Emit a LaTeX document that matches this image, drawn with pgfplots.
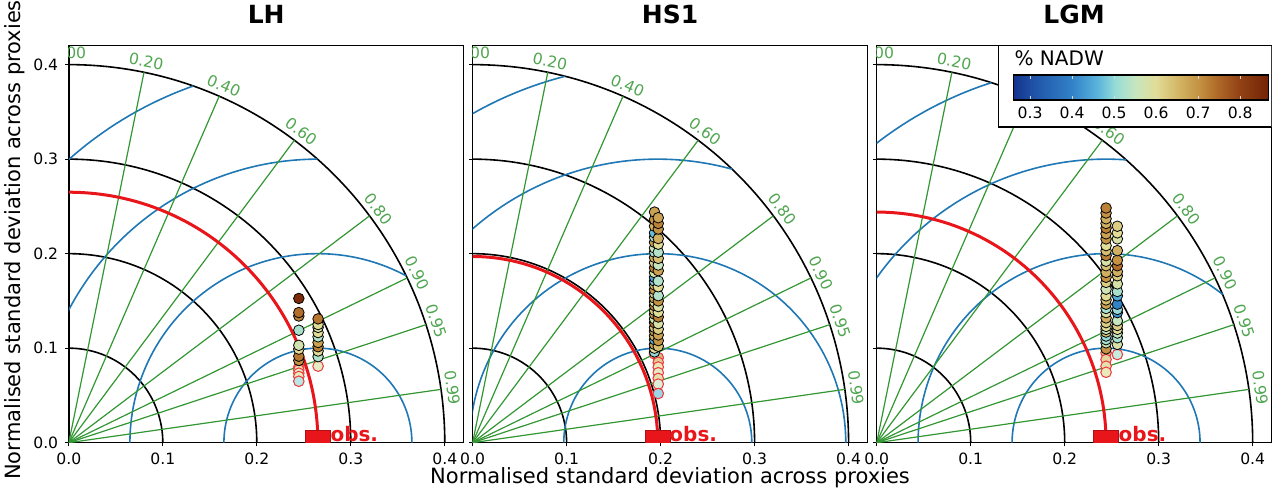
\documentclass[border=0pt]{standalone}
\usepackage{fontspec}
\setmainfont{DejaVu Sans}
\usepackage{pgfplots}
\pgfplotsset{compat=1.18}

\definecolor{grgreen}{RGB}{50,150,50}
\definecolor{grlabel}{RGB}{80,165,80}
\definecolor{rmsblue}{RGB}{31,119,180}
\definecolor{obsred}{RGB}{232,22,26}

\pgfplotsset{
  colormap={nadw}{
    rgb255(0pt)=(20,50,140) rgb255(7pt)=(30,80,165) rgb255(23pt)=(50,130,200)
    rgb255(33pt)=(90,180,220) rgb255(40pt)=(150,220,215) rgb255(48pt)=(200,230,190)
    rgb255(56pt)=(225,220,150) rgb255(65pt)=(210,180,100) rgb255(73pt)=(195,145,65)
    rgb255(80pt)=(175,105,40) rgb255(89pt)=(145,65,20) rgb255(100pt)=(115,35,5)},
}

\tikzset{corrlab/.style={text=grlabel, font=\fontsize{7.8}{9}\selectfont, inner sep=0pt, anchor=center}}

\pgfplotsset{
  taylor/.style={
    scale only axis, width=197.4pt, height=198.5pt,
    xmin=0, xmax=0.42, ymin=0, ymax=0.42,
    axis line style={line width=0.75pt},
    xtick={0,0.1,0.2,0.3,0.4}, xticklabels={0.0,0.1,0.2,0.3,0.4},
    ytick={0,0.1,0.2,0.3,0.4},
    tick align=outside, tick pos=left, major tick length=1.8pt,
    tick style={black, line width=0.6pt},
    ticklabel style={font=\fontsize{7.8}{9}\selectfont},
    colormap name=nadw, point meta min=0.26, point meta max=0.867,
    title style={font=\fontsize{12.5}{14}\selectfont\bfseries,
      at={(axis description cs:0.5,1.0496)}, anchor=center},
    clip marker paths=true,
    after end axis/.code={
      \begin{scope}
        \clip (rel axis cs:0,0) rectangle (rel axis cs:1,1);
        \node[corrlab] at (axis cs:0,0.412) {0.00};
      \end{scope}
    },
  },
  good/.style={scatter, only marks, mark=*, mark size=2.65pt, scatter src=explicit,
    scatter/use mapped color={draw=black, fill=mapped color},
    mark options={line width=0.4pt}},
  faded/.style={scatter, only marks, mark=*, mark size=2.65pt, scatter src=explicit,
    scatter/use mapped color={draw=obsred!85!white, fill=mapped color!65!white},
    mark options={line width=0.5pt}},
}

% standard-deviation arcs about the origin
\newcommand\stdarcs{%
  \addplot[black, line width=0.8pt, domain=0:90, samples=80] ({0.1*cos(x)},{0.1*sin(x)});
  \addplot[black, line width=0.8pt, domain=0:90, samples=80] ({0.2*cos(x)},{0.2*sin(x)});
  \addplot[black, line width=0.8pt, domain=0:90, samples=80] ({0.3*cos(x)},{0.3*sin(x)});
  \addplot[black, line width=0.8pt, domain=0:90, samples=80] ({0.4*cos(x)},{0.4*sin(x)});
}
% centred RMS-difference arcs about the reference point (#1), kept inside radius 0.4
\newcommand\rmsarcs[5]{%
  \addplot[rmsblue, line width=0.8pt, domain=#2:180, samples=100] ({#1+0.1*cos(x)},{0.1*sin(x)});
  \addplot[rmsblue, line width=0.8pt, domain=#3:180, samples=100] ({#1+0.2*cos(x)},{0.2*sin(x)});
  \addplot[rmsblue, line width=0.8pt, domain=#4:180, samples=100] ({#1+0.3*cos(x)},{0.3*sin(x)});
  \addplot[rmsblue, line width=0.8pt, domain=#5:180, samples=100] ({#1+0.4*cos(x)},{0.4*sin(x)});
}
% correlation rays
\newcommand\corrlines{%
  \addplot[grgreen, line width=0.6pt, domain=0:0.4, samples=2] ({x*0.2},{x*0.97980});
  \addplot[grgreen, line width=0.6pt, domain=0:0.4, samples=2] ({x*0.4},{x*0.91652});
  \addplot[grgreen, line width=0.6pt, domain=0:0.4, samples=2] ({x*0.6},{x*0.8});
  \addplot[grgreen, line width=0.6pt, domain=0:0.4, samples=2] ({x*0.8},{x*0.6});
  \addplot[grgreen, line width=0.6pt, domain=0:0.4, samples=2] ({x*0.9},{x*0.43589});
  \addplot[grgreen, line width=0.6pt, domain=0:0.4, samples=2] ({x*0.95},{x*0.31225});
  \addplot[grgreen, line width=0.6pt, domain=0:0.4, samples=2] ({x*0.99},{x*0.14107});
}
\newcommand\corrlabels{%
  \node[corrlab, rotate=-11.54] at (axis cs:0.0824,0.4037) {0.20};
  \node[corrlab, rotate=-23.58] at (axis cs:0.1648,0.3776) {0.40};
  \node[corrlab, rotate=-36.87] at (axis cs:0.2472,0.3296) {0.60};
  \node[corrlab, rotate=-53.13] at (axis cs:0.3296,0.2472) {0.80};
  \node[corrlab, rotate=-64.16] at (axis cs:0.3708,0.1796) {0.90};
  \node[corrlab, rotate=-71.81] at (axis cs:0.3914,0.1286) {0.95};
  \node[corrlab, rotate=-81.89] at (axis cs:0.4079,0.0581) {0.99};
}
% reference arc (#1 = obs. std)
\newcommand\obsarc[1]{%
  \addplot[obsred, line width=1.5pt, domain=0:90, samples=100] ({#1*cos(x)},{#1*sin(x)});
}
% obs. marker at #1, label starting at #2
\newcommand\obsmark[2]{%
  \addplot[only marks, mark=square*, mark size=6.25pt,
    mark options={fill=obsred, draw=obsred!75!black, line width=0.4pt}] coordinates {(#1,0)};
  \node[text=obsred, font=\fontsize{10}{12}\selectfont\bfseries, anchor=base west, inner sep=0pt]
    at (axis cs:#2,0.0015) {obs.};
}

\begin{document}
\begin{tikzpicture}
\useasboundingbox (0,0) rectangle (638.5pt,246pt);

%---------------- LH ----------------
\begin{axis}[taylor, at={(34.4pt,24.65pt)}, anchor=south west,
  title={LH},
  yticklabels={0.0,0.1,0.2,0.3,0.4},
  ylabel={Normalised standard deviation across proxies},
  ylabel style={font=\fontsize{10.5}{12}\selectfont, at={(axis description cs:-0.1363,0.5106)}, anchor=center}]
\stdarcs
\rmsarcs{0.265}{0}{62.0}{90.1}{109.35}
\corrlines
\obsarc{0.265}
\corrlabels
\addplot[faded] table[meta=c] {
x y c
0.2447 0.0800 0.66
0.2447 0.0770 0.62
0.2447 0.0735 0.56
0.2447 0.0700 0.60
0.2447 0.0650 0.50
0.2652 0.0810 0.58
};
\addplot[good] table[meta=c] {
x y c
0.2447 0.0870 0.70
0.2447 0.0915 0.73
0.2447 0.0990 0.60
0.2447 0.1030 0.57
0.2447 0.1190 0.52
0.2447 0.1340 0.72
0.2447 0.1377 0.74
0.2447 0.1526 0.85
0.2652 0.0910 0.53
0.2652 0.0970 0.60
0.2652 0.1015 0.72
0.2652 0.1060 0.68
0.2652 0.1120 0.53
0.2652 0.1165 0.60
0.2652 0.1220 0.58
0.2652 0.1250 0.60
0.2652 0.1310 0.73
};
\obsmark{0.265}{0.278}
\end{axis}

%---------------- HS1 ----------------
\begin{axis}[taylor, at={(236.3pt,24.65pt)}, anchor=south west,
  title={HS1},
  yticklabels={},
  xlabel={Normalised standard deviation across proxies},
  xlabel style={font=\fontsize{10.5}{12}\selectfont, at={(axis description cs:0.5,-0.0889)}, anchor=center}]
\stdarcs
\rmsarcs{0.197}{0}{0}{74.7}{104.3}
\corrlines
\obsarc{0.197}
\corrlabels
\addplot[faded] table[meta=c] {
x y c
0.1935 0.0940 0.62
0.1975 0.0900 0.70
0.1975 0.0850 0.66
0.1975 0.0800 0.60
0.1975 0.0740 0.58
0.1975 0.0680 0.62
0.1975 0.0620 0.55
0.1975 0.0520 0.47
};
\addplot[good] table[meta=c] {
x y c
0.1935 0.0960 0.50
0.1935 0.1000 0.60
0.1935 0.1040 0.68
0.1935 0.1090 0.45
0.1935 0.1130 0.66
0.1935 0.1180 0.70
0.1935 0.1220 0.63
0.1935 0.1270 0.74
0.1935 0.1310 0.57
0.1935 0.1360 0.68
0.1935 0.1400 0.62
0.1935 0.1450 0.72
0.1935 0.1490 0.58
0.1935 0.1530 0.66
0.1935 0.1580 0.60
0.1935 0.1620 0.70
0.1935 0.1670 0.64
0.1935 0.1710 0.48
0.1935 0.1750 0.44
0.1935 0.1800 0.58
0.1935 0.1850 0.72
0.1935 0.1905 0.62
0.1935 0.1960 0.66
0.1935 0.2015 0.52
0.1935 0.2060 0.56
0.1935 0.2120 0.68
0.1935 0.2175 0.53
0.1935 0.2220 0.47
0.1935 0.2290 0.66
0.1935 0.2360 0.70
0.1935 0.2440 0.68
0.1975 0.1020 0.64
0.1975 0.1080 0.70
0.1975 0.1140 0.68
0.1975 0.1200 0.62
0.1975 0.1260 0.58
0.1975 0.1330 0.72
0.1975 0.1380 0.60
0.1975 0.1440 0.58
0.1975 0.1500 0.70
0.1975 0.1555 0.53
0.1975 0.1650 0.60
0.1975 0.1710 0.53
0.1975 0.1820 0.68
0.1975 0.1880 0.55
0.1975 0.1950 0.64
0.1975 0.2015 0.53
0.1975 0.2100 0.60
0.1975 0.2160 0.66
0.1975 0.2260 0.70
0.1975 0.2320 0.72
0.1975 0.2380 0.68
};
\obsmark{0.197}{0.209}
\end{axis}

%---------------- LGM ----------------
\begin{axis}[taylor, at={(438.35pt,24.65pt)}, anchor=south west,
  title={LGM},
  yticklabels={},
  colorbar horizontal,
  colorbar style={
    at={(parent axis.north east)}, anchor=north east, xshift=-1.6pt, yshift=-6.15pt,
    scale only axis, width=127.5pt, height=12.5pt,
    xtick={0.3,0.4,0.5,0.6,0.7,0.8}, xticklabels={0.3,0.4,0.5,0.6,0.7,0.8},
    xticklabel style={font=\fontsize{7.8}{9}\selectfont},
    tick align=inside, major tick length=2pt,
    xtick style={white!85!black, line width=0.4pt},
    axis line style={line width=0.7pt},
  }]
\stdarcs
\rmsarcs{0.244}{0}{51.7}{85.9}{107.8}
\corrlines
\obsarc{0.244}
\corrlabels
\addplot[faded] table[meta=c] {
x y c
0.2440 0.0951 0.68
0.2440 0.0880 0.64
0.2440 0.0809 0.62
0.2440 0.0745 0.60
0.2560 0.0933 0.52
};
\addplot[good] table[meta=c] {
x y c
0.2440 0.0993 0.70
0.2440 0.1057 0.56
0.2440 0.1090 0.52
0.2440 0.1128 0.50
0.2440 0.1170 0.64
0.2440 0.1199 0.55
0.2440 0.1230 0.60
0.2440 0.1270 0.62
0.2440 0.1320 0.66
0.2440 0.1376 0.58
0.2440 0.1420 0.52
0.2440 0.1465 0.68
0.2440 0.1510 0.64
0.2440 0.1553 0.60
0.2440 0.1624 0.56
0.2440 0.1696 0.62
0.2440 0.1750 0.70
0.2440 0.1802 0.66
0.2440 0.1872 0.64
0.2440 0.1920 0.58
0.2440 0.1979 0.72
0.2440 0.2030 0.64
0.2440 0.2085 0.60
0.2440 0.2156 0.70
0.2440 0.2210 0.68
0.2440 0.2270 0.72
0.2440 0.2320 0.66
0.2440 0.2369 0.66
0.2440 0.2430 0.70
0.2440 0.2483 0.72
0.2560 0.1040 0.58
0.2560 0.1110 0.52
0.2560 0.1160 0.55
0.2560 0.1199 0.60
0.2560 0.1240 0.62
0.2560 0.1290 0.55
0.2560 0.1376 0.42
0.2560 0.1410 0.50
0.2560 0.1465 0.40
0.2560 0.1553 0.45
0.2560 0.1600 0.52
0.2560 0.1680 0.58
0.2560 0.1766 0.62
0.2560 0.1810 0.66
0.2560 0.1872 0.74
0.2560 0.1930 0.70
0.2560 0.2032 0.66
0.2560 0.2156 0.58
0.2560 0.2220 0.60
0.2560 0.2290 0.62
};
\obsmark{0.244}{0.257}
\filldraw[fill=white, draw=black, line width=0.6pt] (axis cs:0.1294,0.334) rectangle (axis cs:0.42,0.42);
\node[anchor=west, inner sep=0pt, font=\fontsize{10}{12}\selectfont] at (axis cs:0.1463,0.4072) {\% NADW};
\end{axis}
\end{tikzpicture}
\end{document}
